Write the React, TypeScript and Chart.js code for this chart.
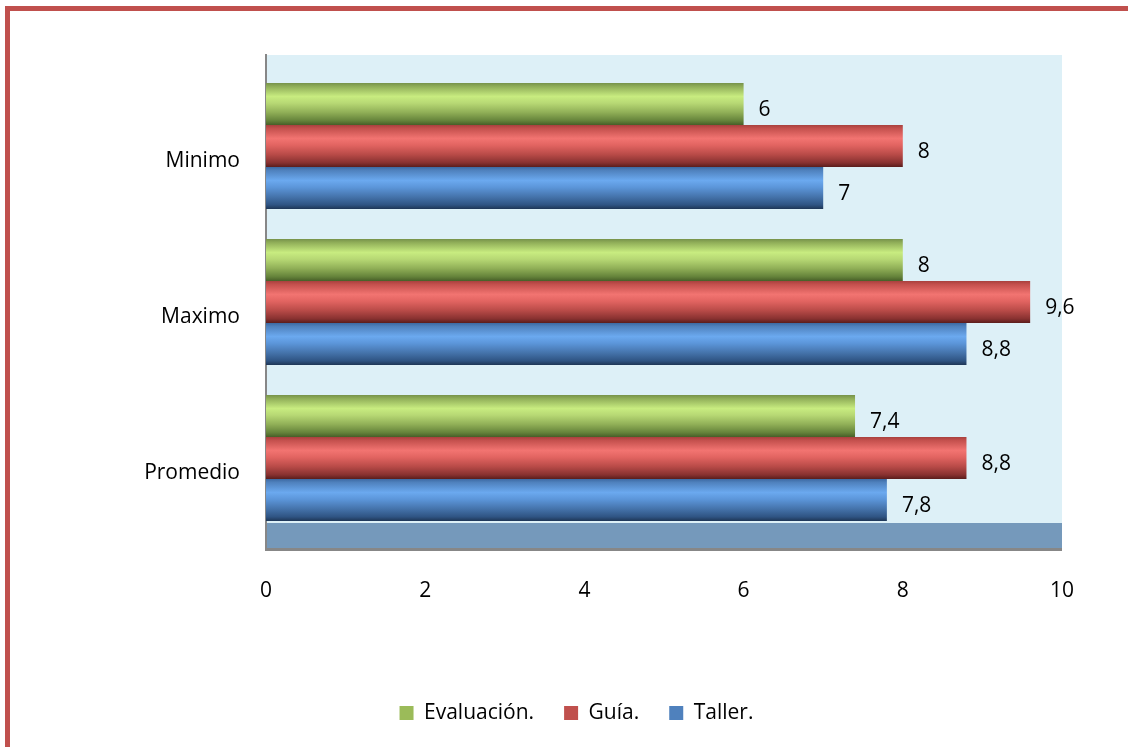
import React, { useEffect, useRef } from 'react';
import { Chart, registerables } from 'chart.js';

Chart.register(...registerables);

// ---- data ----
const categories = ['Minimo', 'Maximo', 'Promedio'];
const seriesNames = ['Evaluación.', 'Guía.', 'Taller.'];
const evaluacion = [6, 8, 7.4];
const guia = [8, 9.6, 8.8];
const taller = [7, 8.8, 7.8];
const xTicks = [0, 2, 4, 6, 8, 10];

// ---- styles ----
const legendColors = ['#9BBB59', '#C0504D', '#4F81BD'];
const gradientStops: [number, string][][] = [
  [[0, '#76924a'], [0.08, '#8fad58'], [0.32, '#c8ec80'], [0.48, '#b7d874'], [0.7, '#90af57'], [0.9, '#64823a'], [1, '#475e28']],
  [[0, '#a8413e'], [0.08, '#c4504d'], [0.32, '#f27471'], [0.48, '#e26461'], [0.7, '#b94b48'], [0.9, '#883130'], [1, '#5a1d1c']],
  [[0, '#3c69a2'], [0.08, '#4f81bd'], [0.32, '#6ba9ef'], [0.48, '#5c96da'], [0.7, '#4675ad'], [0.9, '#2f5483'], [1, '#1e3656']],
];
const FONT = "'Open Sans', sans-serif";
const FONT_SIZE = 21;
const CATEGORY_PCT = 126 / 156;

function barGradient(idx: number) {
  return (ctx: any) => {
    const stops = gradientStops[idx];
    const chart = ctx.chart;
    const y = chart.scales && chart.scales.y;
    if (!y || ctx.dataIndex === undefined || ctx.type !== 'data') return legendColors[idx];
    const center = y.getPixelForValue(ctx.dataIndex);
    const cat = Math.abs(y.getPixelForValue(1) - y.getPixelForValue(0));
    const group = cat * CATEGORY_PCT;
    const n = chart.data.datasets.length;
    const h = group / n;
    const top = center - group / 2 + ctx.datasetIndex * h;
    const g = chart.ctx.createLinearGradient(0, top, 0, top + h);
    stops.forEach(([o, c]) => g.addColorStop(o, c));
    return g;
  };
}

const decorPlugin = {
  id: 'decor',
  beforeDatasetsDraw(chart: any) {
    const { ctx, chartArea } = chart;
    const { left, right, top, bottom } = chartArea;
    ctx.save();
    // outer red frame
    ctx.strokeStyle = '#C0504D';
    ctx.lineWidth = 5;
    ctx.strokeRect(7.5, 8.5, 1300, 900);
    // back wall
    ctx.fillStyle = '#DDF0F7';
    ctx.fillRect(left, top - 13, right - left, bottom - top);
    // floor
    ctx.fillStyle = '#7599BB';
    ctx.fillRect(left, bottom - 13, right - left, 25);
    // floor front edge
    ctx.fillStyle = '#878787';
    ctx.fillRect(left - 1, bottom + 12, right - left + 1, 3);
    // left wall edge
    ctx.fillRect(left - 1, top - 14, 2, bottom - top + 29);
    ctx.restore();
  },
  afterDatasetsDraw(chart: any) {
    const { ctx } = chart;
    ctx.save();
    ctx.font = `${FONT_SIZE}px ${FONT}`;
    ctx.fillStyle = '#000000';
    ctx.textAlign = 'left';
    ctx.textBaseline = 'middle';
    chart.data.datasets.forEach((ds: any, di: number) => {
      const meta = chart.getDatasetMeta(di);
      meta.data.forEach((el: any, i: number) => {
        const v = ds.data[i];
        ctx.fillText(String(v).replace('.', ','), el.x + 15, el.y + 6);
      });
    });
    ctx.restore();
  },
};

export default function App() {
  const ref = useRef<HTMLCanvasElement>(null);
  useEffect(() => {
    document.body.style.margin = '0';
    const canvas = ref.current!;
    const chart = new Chart(canvas, {
      type: 'bar',
      data: {
        labels: categories,
        datasets: [
          { label: seriesNames[0], data: evaluacion, backgroundColor: barGradient(0) },
          { label: seriesNames[1], data: guia, backgroundColor: barGradient(1) },
          { label: seriesNames[2], data: taller, backgroundColor: barGradient(2) },
        ],
      },
      options: {
        indexAxis: 'y',
        responsive: false,
        devicePixelRatio: 1,
        animation: false,
        events: [],
        layout: { padding: { top: 68, right: 66, left: 91, bottom: 13.5 } },
        datasets: { bar: { categoryPercentage: CATEGORY_PCT, barPercentage: 1, borderWidth: 0 } },
        scales: {
          x: {
            type: 'linear',
            min: 0,
            max: 10,
            grid: { display: false, drawTicks: false },
            border: { display: false },
            afterBuildTicks: (s: any) => { s.ticks = xTicks.map((v) => ({ value: v })); },
            afterFit: (s: any) => { s.height = 136.5; },
            ticks: {
              padding: 42,
              color: '#000000',
              font: { family: FONT, size: FONT_SIZE },
              callback: (v: any) => String(v),
            },
          },
          y: {
            type: 'category',
            grid: { display: false, drawTicks: false },
            border: { display: false },
            afterFit: (s: any) => { s.width = 175; },
            ticks: {
              padding: 26,
              labelOffset: 15,
              color: '#000000',
              font: { family: FONT, size: FONT_SIZE },
            },
          },
        },
        plugins: {
          legend: {
            position: 'bottom',
            labels: {
              boxWidth: 14,
              boxHeight: 14,
              padding: 30,
              color: '#000000',
              font: { family: FONT, size: FONT_SIZE },
              generateLabels: (c: any) =>
                c.data.datasets.map((ds: any, i: number) => ({
                  text: ds.label,
                  fillStyle: legendColors[i],
                  strokeStyle: legendColors[i],
                  lineWidth: 0,
                  hidden: false,
                  datasetIndex: i,
                  fontColor: '#000000',
                })),
            },
          },
          tooltip: { enabled: false },
        },
      },
      plugins: [decorPlugin],
    } as any);
    return () => chart.destroy();
  }, []);
  return (
    <div style={{ width: 1128, height: 747, background: '#ffffff' }}>
      <canvas ref={ref} width={1128} height={747} style={{ display: 'block' }} />
    </div>
  );
}
